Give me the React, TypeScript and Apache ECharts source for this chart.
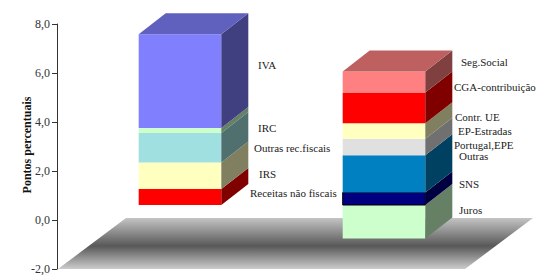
import React, { useEffect, useRef } from "react";
import * as echarts from "echarts";

// ---- data ----
const categories = ["Receitas", "Despesas"];
const leftNames = ["Receitas não fiscais", "IRS", "Outras rec.fiscais", "IRC", "IVA"];
const leftValues = [0.65, 1.08, 1.21, 0.2, 3.83];
const rightNames = ["Juros", "SNS", "Outras", "EP-Estradas Portugal,EPE", "Contr. UE", "CGA-contribuição", "Seg.Social"];
const rightValues = [-1.37, 0.51, 1.52, 0.67, 0.64, 1.25, 0.86];
const yMin = -2;
const yMax = 8;
const yInterval = 2;
const axisTitle = "Pontos percentuais";

// ---- styles ----
const leftColors = ["#FF0000", "#FFFFC0", "#A0E0E0", "#CCFFCC", "#8080FF"];
const rightColors = ["#CCFFCC", "#000080", "#0080C0", "#E0E0E0", "#FFFFC0", "#FF0000", "#FF8080"];

// label layout (pixel positions of annotation texts)
const labelLayout = [
  { text: "IVA", x: 258, y: 65 },
  { text: "IRC", x: 258, y: 128 },
  { text: "Outras rec.fiscais", x: 254, y: 148 },
  { text: "IRS", x: 259, y: 174 },
  { text: "Receitas não fiscais", x: 250, y: 193 },
  { text: "Seg.Social", x: 461, y: 62 },
  { text: "CGA-contribuição", x: 454, y: 87 },
  { text: "Contr. UE", x: 455, y: 117 },
  { text: "EP-Estradas", x: 458, y: 131 },
  { text: "Portugal,EPE", x: 454, y: 145 },
  { text: "Outras", x: 459, y: 156 },
  { text: "SNS", x: 459, y: 184 },
  { text: "Juros", x: 459, y: 210 },
];

const OFF_X = 21;
const OFF_Y = -15;
const DX = 27;
const DY = -21;
const FLOOR_DX = 68;
const FLOOR_DY = -51;
const SERIF = '"Liberation Serif", "Times New Roman", serif';

function shade(hex: string, f: number) {
  const n = parseInt(hex.slice(1), 16);
  const r = Math.round(((n >> 16) & 255) * f);
  const g = Math.round(((n >> 8) & 255) * f);
  const b = Math.round((n & 255) * f);
  return `rgb(${r},${g},${b})`;
}

type Seg = { cat: number; start: number; end: number; color: string; top: boolean; name: string };

function buildSegments(): Seg[] {
  const out: Seg[] = [];
  const groups = [
    { names: leftNames, values: leftValues, colors: leftColors },
    { names: rightNames, values: rightValues, colors: rightColors },
  ];
  groups.forEach((g, cat) => {
    let pos = 0;
    let neg = 0;
    let lastPos = -1;
    g.values.forEach((v, i) => {
      if (v >= 0) {
        out.push({ cat, start: pos, end: pos + v, color: g.colors[i], top: false, name: g.names[i] });
        pos += v;
        lastPos = out.length - 1;
      } else {
        out.push({ cat, start: neg, end: neg + v, color: g.colors[i], top: false, name: g.names[i] });
        neg += v;
      }
    });
    if (lastPos >= 0) out[lastPos].top = true;
  });
  return out;
}

const segments = buildSegments();

export default function App() {
  const ref = useRef<HTMLDivElement>(null);
  useEffect(() => {
    if (!ref.current) return;
    const chart = echarts.init(ref.current, null, { renderer: "svg" });

    const renderFloor = (params: any, api: any) => {
      const cs = params.coordSys;
      const yb = api.coord([0, yMin])[1];
      const x0 = cs.x + 1;
      const x1 = cs.x + cs.width;
      return {
        type: "polygon",
        shape: {
          points: [
            [x0, yb],
            [x1, yb],
            [x1 + FLOOR_DX, yb + FLOOR_DY],
            [x0 + FLOOR_DX, yb + FLOOR_DY],
          ],
        },
        style: {
          fill: new echarts.graphic.LinearGradient(0, 0, 0, 1, [
            { offset: 0, color: "#c4c4c4" },
            { offset: 0.55, color: "#585858" },
            { offset: 1, color: "#cccccc" },
          ]),
          stroke: null,
        },
      };
    };

    const renderBar = (params: any, api: any) => {
      const seg = segments[params.dataIndex];
      const cat = api.value(0);
      const pS = api.coord([cat, api.value(1)]);
      const pE = api.coord([cat, api.value(2)]);
      const band = api.size([1, 0])[0];
      const w = band * 0.405;
      const xl = pS[0] - w / 2 + OFF_X;
      const xr = xl + w;
      const yb = Math.max(pS[1], pE[1]) + OFF_Y;
      const yt = Math.min(pS[1], pE[1]) + OFF_Y;
      const children: any[] = [
        {
          type: "rect",
          shape: { x: xl, y: yt, width: w, height: yb - yt },
          style: { fill: seg.color, stroke: seg.color === "#000080" ? "#000000" : null, lineWidth: 1 },
        },
        {
          type: "polygon",
          shape: { points: [[xr, yt], [xr + DX, yt + DY], [xr + DX, yb + DY], [xr, yb]] },
          style: { fill: shade(seg.color, 0.5), stroke: null },
        },
      ];
      if (seg.top) {
        children.push({
          type: "polygon",
          shape: { points: [[xl, yt], [xl + DX, yt + DY], [xr + DX, yt + DY], [xr, yt]] },
          style: { fill: shade(seg.color, 0.75), stroke: null },
        });
      }
      return { type: "group", children };
    };

    const graphics: any[] = labelLayout.map((l) => ({
      type: "text",
      x: l.x,
      y: l.y,
      style: { text: l.text, fontSize: 11, fontFamily: SERIF, fill: "#222", verticalAlign: "middle", align: "left" },
      z: 10,
    }));
    graphics.push({
      type: "text",
      x: 27,
      y: 145,
      rotation: Math.PI / 2,
      style: {
        text: axisTitle,
        fontSize: 12,
        fontWeight: "bold",
        fontFamily: SERIF,
        fill: "#111",
        align: "center",
        verticalAlign: "middle",
      },
      z: 10,
    });

    chart.setOption({
      animation: false,
      backgroundColor: "#ffffff",
      grid: { left: 57, top: 24, width: 408, height: 248, containLabel: false },
      xAxis: { type: "category", data: categories, show: false },
      yAxis: {
        type: "value",
        min: yMin,
        max: yMax,
        interval: yInterval,
        axisLine: { show: true, lineStyle: { color: "#333", width: 1 } },
        axisTick: { show: true, inside: false, length: 5, lineStyle: { color: "#333" } },
        axisLabel: {
          margin: 7,
          fontSize: 12,
          fontFamily: SERIF,
          color: "#333",
          formatter: (v: number) => v.toFixed(1).replace(".", ","),
        },
        splitLine: { show: false },
      },
      graphic: graphics,
      series: [
        {
          type: "custom",
          z: 1,
          renderItem: renderFloor,
          data: [[0, yMin]],
          silent: true,
        },
        {
          type: "custom",
          z: 2,
          renderItem: renderBar,
          data: segments.map((s) => ({ name: s.name, value: [s.cat, s.start, s.end] })),
          encode: { x: 0, y: [1, 2] },
        },
      ],
    });
    return () => chart.dispose();
  }, []);
  return <div ref={ref} style={{ position: "fixed", left: 0, top: 0, width: 539, height: 275 }} />;
}
